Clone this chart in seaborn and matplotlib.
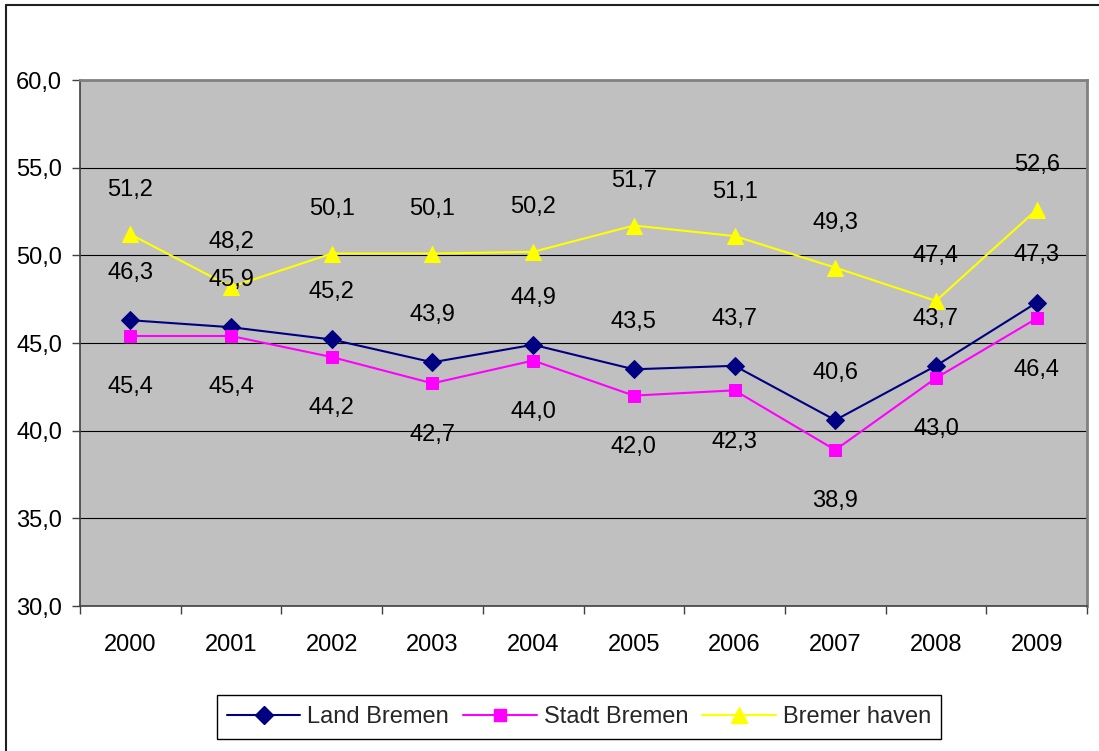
import matplotlib
matplotlib.use("Agg")
import matplotlib.pyplot as plt
from matplotlib.lines import Line2D
import seaborn as sns
import pandas as pd
import numpy as np

years = ["2000", "2001", "2002", "2003", "2004", "2005", "2006", "2007", "2008", "2009"]
land_bremen = [46.3, 45.9, 45.2, 43.9, 44.9, 43.5, 43.7, 40.6, 43.7, 47.3]
stadt_bremen = [45.4, 45.4, 44.2, 42.7, 44.0, 42.0, 42.3, 38.9, 43.0, 46.4]
bremerhaven = [51.2, 48.2, 50.1, 50.1, 50.2, 51.7, 51.1, 49.3, 47.4, 52.6]
series_names = ["Land Bremen", "Stadt Bremen", "Bremer haven"]
y_ticks = [30.0, 35.0, 40.0, 45.0, 50.0, 55.0, 60.0]

sns.set_theme(style="white")
plt.rcParams['font.family'] = ['Liberation Sans', 'DejaVu Sans']

FS = 17

rows = []
for name, vals in zip(series_names, [land_bremen, stadt_bremen, bremerhaven]):
    for i, (y, v) in enumerate(zip(years, vals)):
        rows.append({"pos": i, "year": y, "value": v, "series": name})
df = pd.DataFrame(rows)

colors = {"Land Bremen": "#000080", "Stadt Bremen": "#FF00FF", "Bremer haven": "#FFFF00"}
markers = {"Land Bremen": "D", "Stadt Bremen": "s", "Bremer haven": "^"}
msizes = {"Land Bremen": 9, "Stadt Bremen": 9, "Bremer haven": 11}

fig = plt.figure(figsize=(10.99, 7.51), dpi=100)
ax = fig.add_axes([80/1099, 1-606/751, (1087-80)/1099, (606-80)/751])
ax.set_facecolor("#C0C0C0")

for name in series_names:
    sub = df[df["series"] == name]
    sns.lineplot(data=sub, x="pos", y="value", color=colors[name], marker=markers[name],
                 markersize=msizes[name], markeredgecolor=colors[name], linewidth=1.5,
                 ax=ax, legend=False, zorder=3)

ax.set_xlim(-0.5, 9.5)
ax.set_ylim(30, 60)
ax.set_yticks(y_ticks)
ax.set_yticklabels([f"{t:.1f}".replace(".", ",") for t in y_ticks], fontsize=FS, color="black")
ax.yaxis.grid(True, color="black", linewidth=0.8)
ax.set_axisbelow(True)

ax.set_xticks(np.arange(-0.5, 10, 1.0))
ax.set_xticklabels([])
ax.set_xticks(np.arange(10), minor=True)
ax.set_xticklabels(years, minor=True, fontsize=FS, color="black")
ax.tick_params(axis="x", which="major", direction="out", length=6, width=1, color="#404040", bottom=True)
ax.tick_params(axis="x", which="minor", length=0, pad=20)
ax.tick_params(axis="y", direction="out", length=6, width=1, color="#404040", left=True, pad=7)
ax.set_xlabel("")
ax.set_ylabel("")

for side in ["left", "bottom"]:
    ax.spines[side].set_color("#404040")
    ax.spines[side].set_linewidth(1.2)
for side in ["top", "right"]:
    ax.spines[side].set_color("#808080")
    ax.spines[side].set_linewidth(2)

def lab(v):
    return f"{v:.1f}".replace(".", ",")

for i in range(10):
    ax.annotate(lab(land_bremen[i]), (i, land_bremen[i]), xytext=(0, 34), textcoords="offset points",
                ha="center", va="center", fontsize=FS, color="black", zorder=4)
    ax.annotate(lab(stadt_bremen[i]), (i, stadt_bremen[i]), xytext=(0, -37), textcoords="offset points",
                ha="center", va="center", fontsize=FS, color="black", zorder=4)
    ax.annotate(lab(bremerhaven[i]), (i, bremerhaven[i]), xytext=(0, 32), textcoords="offset points",
                ha="center", va="center", fontsize=FS, color="black", zorder=4)

handles = [Line2D([0], [0], color=colors[n], marker=markers[n], markersize=msizes[n],
                  markeredgecolor=colors[n], linewidth=1.5) for n in series_names]
leg = fig.legend(handles, series_names, loc="center", bbox_to_anchor=(579/1099, 1-717/751),
                 ncol=3, fontsize=FS, frameon=True, fancybox=False, edgecolor="black",
                 framealpha=1, handlelength=3.1, columnspacing=0.6, handletextpad=0.3,
                 borderpad=0.45)
leg.get_frame().set_linewidth(1)

fig.add_artist(Line2D([6/1099, 6/1099], [0, 1-5/751], transform=fig.transFigure, color="#202020", linewidth=1.5))
fig.add_artist(Line2D([6/1099, 1], [1-5/751, 1-5/751], transform=fig.transFigure, color="#202020", linewidth=1.5))

fig.savefig("out.png", dpi=100)
